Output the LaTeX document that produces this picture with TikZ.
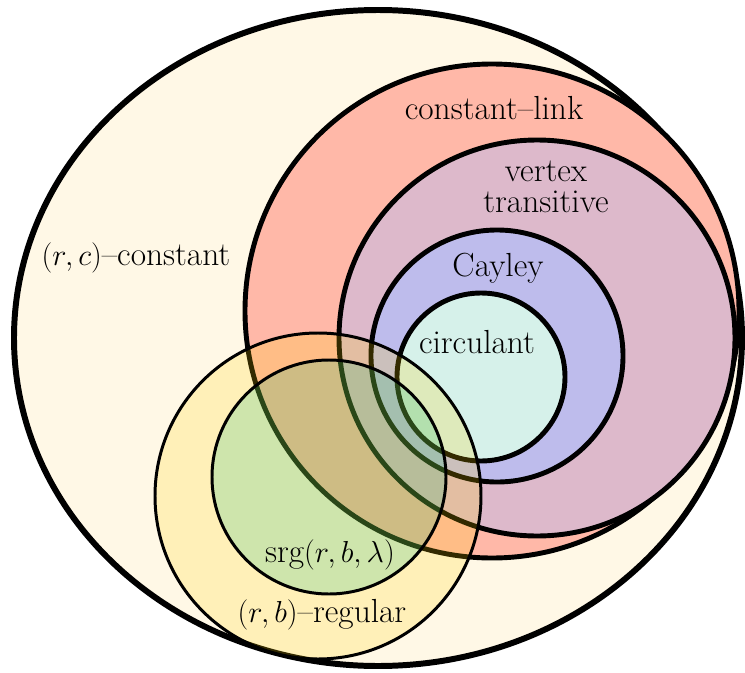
\documentclass[tikz,border=0pt]{standalone}
\usepackage{amsmath,amssymb}
\usepackage{xcolor}
\usetikzlibrary{positioning}
\definecolor{creamfill}{RGB}{255,248,230}
\definecolor{linkfill}{RGB}{255,184,168}
\definecolor{vtfill}{RGB}{221,185,203}
\definecolor{cayleyfill}{RGB}{190,188,236}
\definecolor{circfill}{RGB}{214,241,234}
\definecolor{regfill}{RGB}{255,210,0}
\definecolor{srgfill}{RGB}{10,188,124}

\begin{document}
\begin{tikzpicture}[x=0.02cm,y=-0.02cm,
  bigset/.style={draw=black,line width=2.8pt},
  smallset/.style={draw=black,line width=1.7pt},
  lbl/.style={font=\fontsize{19}{22}\selectfont,align=center,inner sep=1pt}]
  \useasboundingbox (0,0) rectangle (745,673);

  % nested sets
  \draw[line width=3.4pt,fill=creamfill] (378,338) ellipse [x radius=364,y radius=328];
  \draw[bigset,fill=linkfill] (492,311) circle [radius=247];
  \draw[bigset,fill=vtfill] (537,338) circle [radius=198];
  \draw[bigset,fill=cayleyfill] (497,356) circle [radius=126];
  \draw[bigset,fill=circfill] (481,377) circle [radius=84];

  % see-through sets
  \fill[regfill,fill opacity=0.2] (318,496) circle [radius=163];
  \fill[srgfill,fill opacity=0.2] (329,477) circle [radius=117];
  \draw[smallset] (318,496) circle [radius=163];
  \draw[smallset] (329,477) circle [radius=117];

  \node[lbl] (rc) at (136,258) {$(r,c)$--constant};
  \node[lbl] (link) at (494,108) {constant--link};
  \node[lbl] (vt) at (546,187) {vertex\\[-4pt]transitive};
  \node[lbl] (cay) at (498,268) {Cayley};
  \node[lbl] (circ) at (477,342) {circulant};
  \node[lbl] (srg) at (330,555) {srg$(r,b,\lambda)$};
  \node[lbl] (reg) at (322,615) {$(r,b)$--regular};
\end{tikzpicture}
\end{document}
